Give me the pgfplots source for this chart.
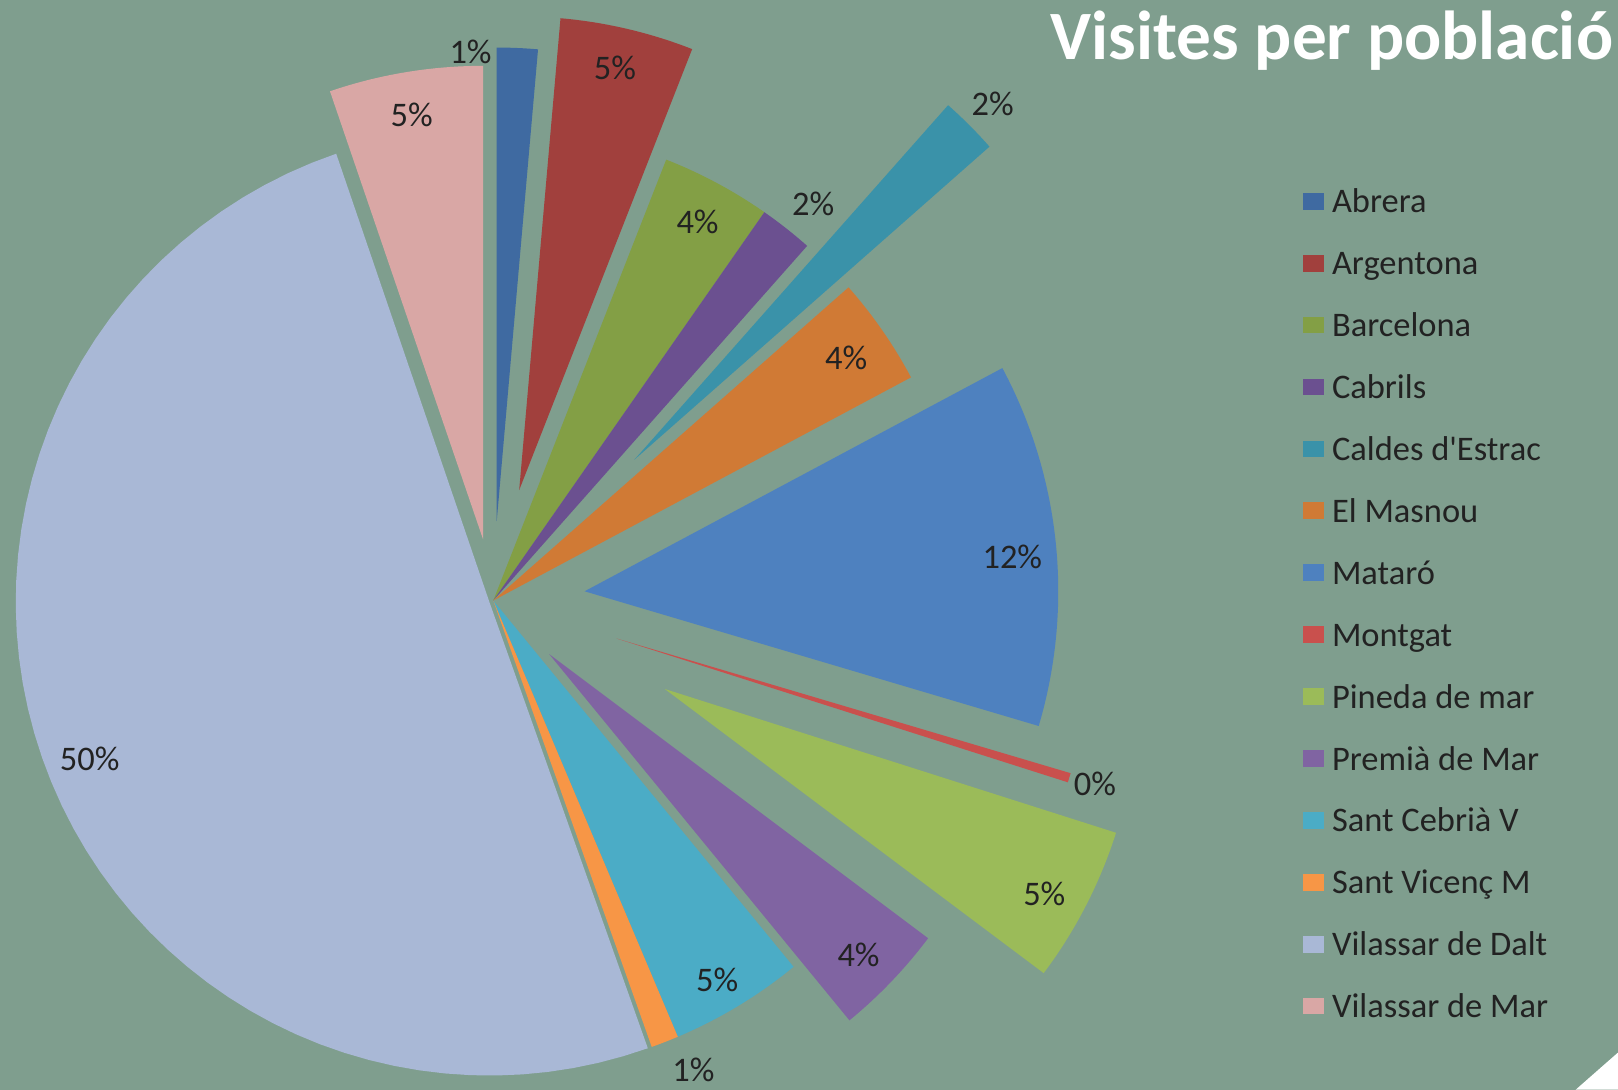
\documentclass[border=0pt]{standalone}
\usepackage{fontspec}
\setmainfont{Carlito}[Ligatures=TeXOff]
\usepackage{pgfplots}
\usepackage{pgfplotstable}
\pgfplotsset{compat=1.18}

\definecolor{bg}{HTML}{7F9E8E}
\definecolor{txt}{HTML}{222222}
\definecolor{c0}{HTML}{3F6AA1}
\definecolor{c1}{HTML}{A1403D}
\definecolor{c2}{HTML}{839F45}
\definecolor{c3}{HTML}{6B5090}
\definecolor{c4}{HTML}{3A92A9}
\definecolor{c5}{HTML}{D07A35}
\definecolor{c6}{HTML}{4E81BF}
\definecolor{c7}{HTML}{C9504D}
\definecolor{c8}{HTML}{9BBB59}
\definecolor{c9}{HTML}{8064A2}
\definecolor{c10}{HTML}{4BACC6}
\definecolor{c11}{HTML}{F79646}
\definecolor{c12}{HTML}{A9B8D6}
\definecolor{c13}{HTML}{D9A7A5}

% value = share in percent, explode = offset of the slice, label = printed percent, lx/ly = label position
\pgfplotstableread[col sep=comma]{
name,value,explode,label,lx,ly
Abrera,1.39,77,1,456,1006
Argentona,4.56,110,5,596,990
Barcelona,3.75,0,4,676,841
Cabrils,1.83,0,2,788,858
Caldes d'Estrac,1.97,193,2,962,955
El Masnou,3.69,0,4,820,709
Mataró,12.40,89,12,981,516
Montgat,0.32,125,0,1061,296
Pineda de mar,5.33,187,5,1012,190
Premià de Mar,3.83,75,4,832,131
Sant Cebrià V,4.56,0,5,695,106
Sant Vicenç M,0.94,0,1,672,19
Vilassar de Dalt,50.19,4,50,87,321
Vilassar de Mar,5.24,60,5,399,945
}\piedata

\begin{document}
\begin{tikzpicture}
\fill[bg] (0,0) rectangle (156.8mm,105.6mm);
\begin{axis}[
  at={(0,0)}, anchor=south west,
  x=0.1mm, y=0.1mm,
  xmin=0, xmax=1568, ymin=0, ymax=1056,
  hide axis, clip=false,
  legend style={at={(axis cs:1262,875)}, anchor=north west, draw=none, fill=none,
    font=\fontsize{9.5}{12}\selectfont, text=txt, row sep=8.07pt, column sep=2.3pt,
    inner sep=0pt, nodes={inner sep=0pt, text height=7pt, text depth=2pt}},
  legend cell align=left,
  legend image code/.code={\fill[#1] (0pt,-1.6pt) rectangle (5.7pt,3.0pt);},
]
\def\cum{0}
\pgfplotsforeachungrouped \i in {0,...,13}{%
  \pgfplotstablegetelem{\i}{value}\of\piedata \let\val\pgfplotsretval
  \pgfplotstablegetelem{\i}{explode}\of\piedata \let\exd\pgfplotsretval
  \pgfplotstablegetelem{\i}{name}\of\piedata \let\nm\pgfplotsretval
  \pgfmathsetmacro\sa{\cum}%
  \pgfmathsetmacro\sb{\cum+3.6*\val}%
  \pgfmathsetmacro\md{(\sa+\sb)/2}%
  \pgfmathsetmacro\ax{478+\exd*sin(\md)}%
  \pgfmathsetmacro\ay{474+\exd*cos(\md)}%
  \pgfmathsetmacro\dl{(\sb-\sa)/58}%
  \pgfmathsetmacro\lo{\sa-\dl}%
  \pgfmathsetmacro\thr{\sa-0.5*\dl}%
  \xdef\cum{\sb}%
  \edef\doplot{\noexpand\addplot[fill=c\i, draw=none, domain=\lo:\sb, samples=60]
      ({\ax+(x<\thr ? 0 : 459*sin(x))},{\ay+(x<\thr ? 0 : 459*cos(x))});}%
  \doplot
  \addlegendentryexpanded{\nm}%
}
\pgfplotsforeachungrouped \i in {0,...,13}{%
  \pgfplotstablegetelem{\i}{label}\of\piedata \let\lab\pgfplotsretval
  \pgfplotstablegetelem{\i}{lx}\of\piedata \let\lx\pgfplotsretval
  \pgfplotstablegetelem{\i}{ly}\of\piedata \let\ly\pgfplotsretval
  \edef\donode{\noexpand\node[font=\noexpand\fontsize{9.5}{11}\noexpand\selectfont, text=txt, inner sep=0pt]
     at (axis cs:\lx,\ly) {\lab\noexpand\%};}%
  \donode
}
\node[anchor=north east, inner sep=0pt, text=white, font=\bfseries\fontsize{19.1}{23}\selectfont]
  at (axis cs:1564,1046) {Visites per població};
\fill[white] (axis cs:1527,0) -- (axis cs:1568,0) -- (axis cs:1568,36) .. controls (axis cs:1552,22) .. (axis cs:1527,0) -- cycle;
\end{axis}
\pgfresetboundingbox
\useasboundingbox (0,0) rectangle (156.8mm,105.6mm);
\end{tikzpicture}
\end{document}
